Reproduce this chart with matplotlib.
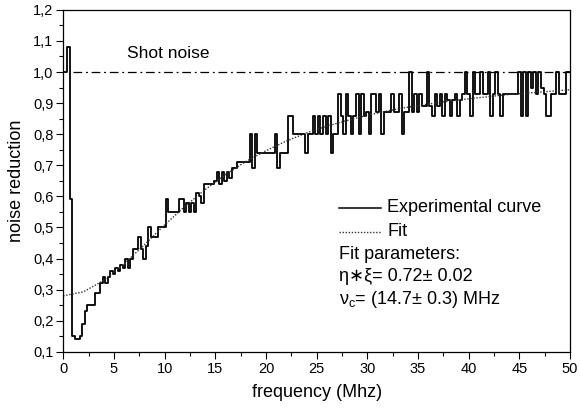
import numpy as np
import matplotlib
matplotlib.use('Agg')
import matplotlib.pyplot as plt

plt.rc('font', family=['Liberation Sans', 'DejaVu Sans'], size=13)

# experimental curve, one value every 0.25 MHz from 0 to 50 MHz
freq_step = 0.25
noise_exp = [
    1.00, 1.00, 1.08, 0.59,
    0.15, 0.14, 0.14, 0.15,
    0.19, 0.23, 0.25, 0.25,
    0.25, 0.29, 0.29, 0.32,
    0.34, 0.32, 0.34, 0.36,
    0.35, 0.37, 0.36, 0.38,
    0.37, 0.40, 0.37, 0.40,
    0.43, 0.43, 0.47, 0.43,
    0.40, 0.44, 0.50, 0.47,
    0.47, 0.47, 0.50, 0.50,
    0.50, 0.59, 0.55, 0.55,
    0.55, 0.55, 0.59, 0.59,
    0.55, 0.58, 0.55, 0.58,
    0.55, 0.61, 0.60, 0.58,
    0.64, 0.64, 0.64, 0.64,
    0.65, 0.68, 0.64, 0.68,
    0.65, 0.68, 0.66, 0.69,
    0.69, 0.71, 0.71, 0.71,
    0.71, 0.71, 0.80, 0.69,
    0.80, 0.74, 0.74, 0.74,
    0.74, 0.74, 0.74, 0.74,
    0.80, 0.69, 0.74, 0.74,
    0.74, 0.86, 0.86, 0.80,
    0.80, 0.80, 0.80, 0.80,
    0.74, 0.80, 0.80, 0.86,
    0.80, 0.86, 0.80, 0.86,
    0.80, 0.86, 0.74, 0.80,
    0.80, 0.93, 0.86, 0.80,
    0.93, 0.86, 0.80, 0.86,
    0.93, 0.80, 0.93, 0.86,
    0.87, 0.80, 0.93, 0.93,
    0.87, 0.93, 0.80, 0.87,
    0.87, 0.87, 0.93, 0.87,
    0.87, 0.93, 0.80, 0.87,
    0.87, 1.00, 0.87, 0.93,
    0.87, 0.93, 0.89, 0.89,
    1.00, 0.89, 0.86, 0.93,
    0.89, 0.93, 0.86, 0.93,
    0.91, 0.86, 0.91, 0.93,
    0.86, 0.91, 0.93, 1.00,
    0.93, 0.86, 1.00, 0.93,
    0.93, 1.00, 0.93, 0.93,
    1.00, 0.86, 0.93, 1.00,
    0.93, 0.86, 0.93, 0.93,
    0.93, 0.93, 0.93, 0.93,
    1.00, 0.86, 1.00, 0.86,
    1.00, 0.95, 1.00, 0.93,
    1.00, 0.95, 0.93, 0.86,
    0.86, 0.93, 0.93, 1.00,
    0.93, 0.93, 0.93, 1.00,
    1.00,
]
freq_exp = np.arange(len(noise_exp)) * freq_step

# fit curve read every 2 MHz
freq_fit = [0, 2, 4, 6, 8, 10, 12, 14, 16, 18, 20, 22, 24, 26, 28, 30,
            32, 34, 36, 38, 40, 42, 44, 46, 48, 50]
noise_fit = [0.280, 0.293, 0.330, 0.383, 0.444, 0.508, 0.568, 0.622, 0.670,
             0.712, 0.747, 0.778, 0.804, 0.826, 0.844, 0.861, 0.875, 0.887,
             0.897, 0.906, 0.914, 0.921, 0.928, 0.933, 0.938, 0.943]

shot_noise = 1.0
shot_start, shot_end = 1.0, 50.0

x_ticks = [0, 5, 10, 15, 20, 25, 30, 35, 40, 45, 50]
y_ticks = [0.1, 0.2, 0.3, 0.4, 0.5, 0.6, 0.7, 0.8, 0.9, 1.0, 1.1, 1.2]
y_labels = ['0,1', '0,2', '0,3', '0,4', '0,5', '0,6', '0,7', '0,8', '0,9',
            '1,0', '1,1', '1,2']

fig = plt.figure(figsize=(5.8, 4.11), dpi=100)
ax = fig.add_axes([0.109, 0.144, 0.874, 0.832])

ax.plot(freq_exp, noise_exp, color='black', lw=1.3, drawstyle='steps-mid')
ax.plot(freq_fit, noise_fit, color='#333333', lw=1.0, linestyle=(0, (1, 1.2)))
ax.plot([shot_start, shot_end], [shot_noise, shot_noise], color='black', lw=0.9,
        linestyle=(0, (7, 3, 1.5, 3)))

ax.set_xlim(0, 50)
ax.set_ylim(0.1, 1.2)
ax.set_xticks(x_ticks)
ax.set_xticks(np.arange(0, 50.1, 2.5), minor=True)
ax.set_yticks(y_ticks)
ax.set_yticklabels(y_labels)
ax.set_yticks(np.arange(0.1, 1.201, 0.05), minor=True)
ax.tick_params(which='major', direction='out', length=5, width=0.8, labelsize=10.5, pad=2)
ax.tick_params(which='minor', direction='out', length=3, width=0.8)
for s in ax.spines.values():
    s.set_linewidth(0.9)

ax.set_xlabel('frequency (Mhz)', fontsize=13, labelpad=6)
ax.set_ylabel('noise reduction', fontsize=13, labelpad=6)

ax.text(10.4, 1.06, 'Shot noise', fontsize=12.5, ha='center', va='center')

# legend block drawn by hand
tr = ax.transAxes
ax.plot([0.544, 0.627], [0.421, 0.421], color='black', lw=1.1, transform=tr)
ax.plot([0.544, 0.627], [0.351, 0.351], color='#333333', lw=1.0,
        linestyle=(0, (1, 1.2)), transform=tr)
ax.text(0.639, 0.421, 'Experimental curve', fontsize=13, va='center', transform=tr)
ax.text(0.639, 0.351, 'Fit', fontsize=13, va='center', transform=tr)
ax.text(0.544, 0.284, 'Fit parameters:', fontsize=13, va='center', transform=tr)
ax.text(0.544, 0.219, 'η∗ξ= 0.72± 0.02', fontsize=13, va='center', transform=tr)
ax.text(0.544, 0.152, 'ν$_\\mathregular{c}$= (14.7± 0.3) MHz', fontsize=13,
        va='center', transform=tr)

plt.savefig('out.png', dpi=100)
